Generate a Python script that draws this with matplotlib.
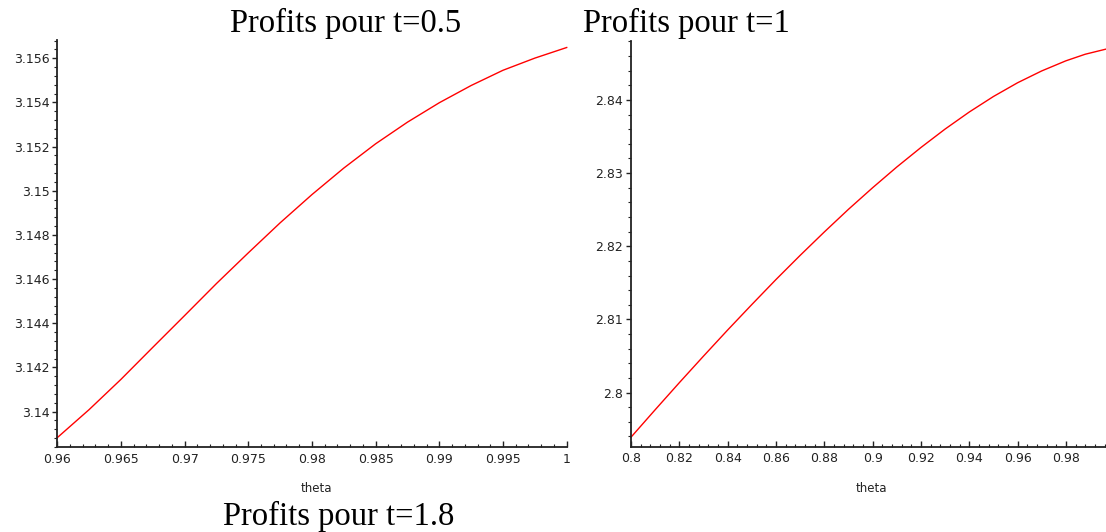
import matplotlib
matplotlib.use("Agg")
import matplotlib.pyplot as plt
from matplotlib.ticker import MultipleLocator, FuncFormatter

# --- data (Maple-style plots) ---
theta_05 = [0.96, 0.9625, 0.965, 0.9675, 0.97, 0.9725, 0.975, 0.9775, 0.98,
            0.9825, 0.985, 0.9875, 0.99, 0.9925, 0.995, 0.9975, 1.0]
profit_05 = [3.13882, 3.14009, 3.14146, 3.14291, 3.14435, 3.14580, 3.14719,
             3.14855, 3.14983, 3.15103, 3.15213, 3.15311, 3.15399, 3.15477,
             3.15546, 3.15601, 3.15649]

theta_1 = [0.80, 0.81, 0.82, 0.83, 0.84, 0.85, 0.86, 0.87, 0.88, 0.89, 0.90,
           0.91, 0.92, 0.93, 0.94, 0.95, 0.96, 0.97, 0.98, 0.988, 0.9966]
profit_1 = [2.79390, 2.79765, 2.80135, 2.80498, 2.80855, 2.81203, 2.81545,
            2.81875, 2.82195, 2.82505, 2.82800, 2.83083, 2.83350, 2.83602,
            2.83835, 2.84047, 2.84235, 2.84397, 2.84535, 2.84625, 2.84695]

titles = ["Profits pour t=0.5", "Profits pour t=1", "Profits pour t=1.8"]
xlabel = "theta"

W, H = 1106, 532
fig = plt.figure(figsize=(W / 100, H / 100), dpi=100)


def px(x0, y_top, x1, y_bot):
    # pixel box -> figure fraction rect
    return [x0 / W, 1 - y_bot / H, (x1 - x0) / W, (y_bot - y_top) / H]


def maple_axes(rect, xlim, ylim, xmaj, xmin, ymaj, ymin):
    ax = fig.add_axes(rect)
    ax.set_xlim(*xlim)
    ax.set_ylim(*ylim)
    for s in ("top", "right"):
        ax.spines[s].set_visible(False)
    for s in ("left", "bottom"):
        ax.spines[s].set_linewidth(1.3)
        ax.spines[s].set_color("#222222")
    ax.xaxis.set_major_locator(MultipleLocator(xmaj))
    ax.xaxis.set_minor_locator(MultipleLocator(xmin))
    ax.yaxis.set_major_locator(MultipleLocator(ymaj))
    ax.yaxis.set_minor_locator(MultipleLocator(ymin))
    fmt = FuncFormatter(lambda v, p: f"{round(v, 6):g}")
    ax.xaxis.set_major_formatter(fmt)
    ax.yaxis.set_major_formatter(fmt)
    ax.tick_params(axis="x", which="major", direction="in", length=4, width=1,
                   pad=4, labelsize=9, colors="#222222")
    ax.tick_params(axis="x", which="minor", direction="in", length=2.2, width=0.8,
                   colors="#222222")
    ax.tick_params(axis="y", which="major", direction="out", length=3.6, width=1,
                   pad=2, labelsize=9, colors="#222222")
    ax.tick_params(axis="y", which="minor", direction="out", length=2.2, width=0.8,
                   colors="#222222")
    return ax


# left panel: t = 0.5
ax1 = maple_axes(px(57.2, 40, 566.7, 447), (0.96, 1.0), (3.1384, 3.15683),
                 0.005, 0.001, 0.002, 0.0004)
ax1.plot(theta_05, profit_05, color="red", lw=1.0, clip_on=False)

# right panel: t = 1 (cut at the right edge of the picture)
ax2 = maple_axes(px(631, 40.7, 1106, 446.7), (0.8, 0.9966), (2.7926, 2.8481),
                 0.02, 0.004, 0.01, 0.002)
ax2.plot(theta_1, profit_1, color="red", lw=1.0, clip_on=False)

# first x tick label sits to the right of the axis corner, like Maple
fig.canvas.draw()
for ax in (ax1, ax2):
    lbls = ax.get_xticklabels()
    if lbls:
        lbls[0].set_horizontalalignment("left")

fig.text(316 / W, 1 - 488 / H, xlabel, ha="center", va="center",
         fontsize=8.5, color="#222222")
fig.text(871 / W, 1 - 488 / H, xlabel, ha="center", va="center",
         fontsize=8.5, color="#222222")

serif = "Liberation Serif"
fig.text(230 / W, 1 - 32 / H, titles[0], ha="left", va="baseline",
         fontsize=23.5, family=serif)
fig.text(583 / W, 1 - 32 / H, titles[1], ha="left", va="baseline",
         fontsize=23.5, family=serif)
fig.text(223 / W, 1 - 525 / H, titles[2], ha="left", va="baseline",
         fontsize=23.5, family=serif)

fig.savefig("out.png", dpi=100, facecolor="white")
